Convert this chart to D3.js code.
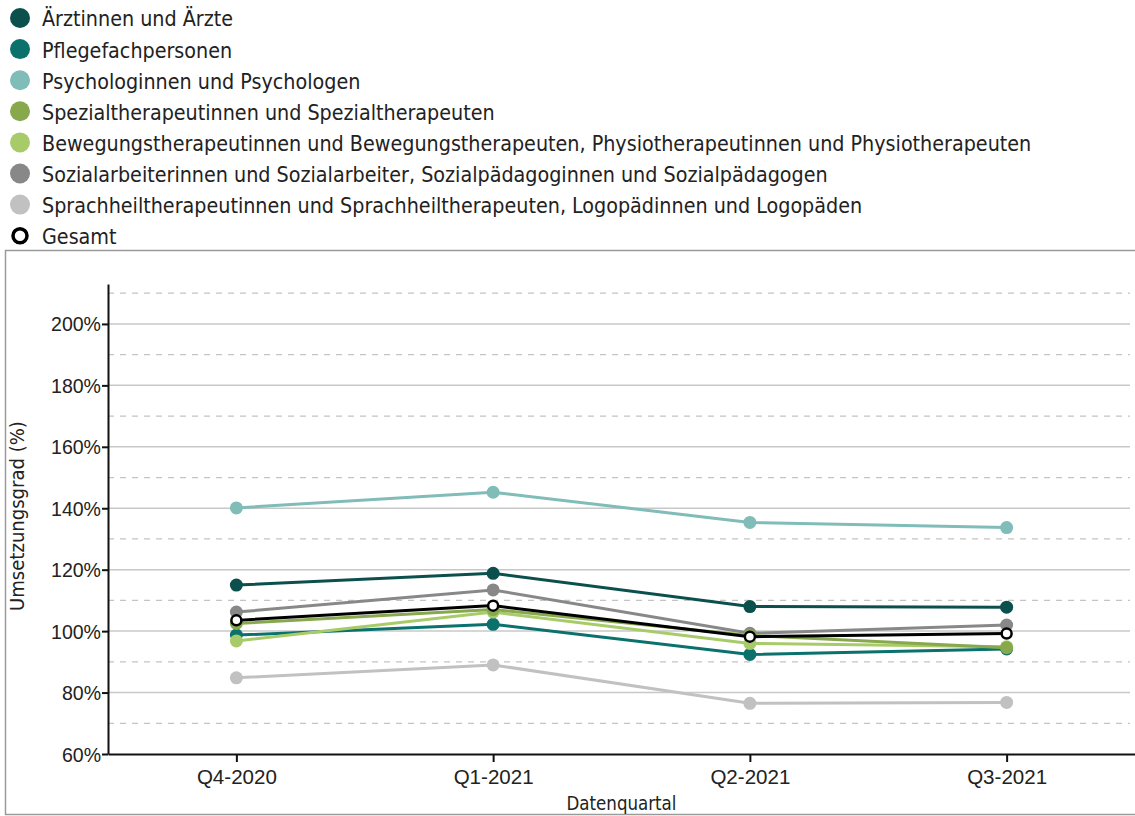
<!DOCTYPE html>
<html>
<head>
<meta charset="utf-8">
<style>
  body { margin: 0; background: #fff; }
  svg { display: block; font-family: "DejaVu Sans Condensed", "DejaVu Sans", sans-serif; }
</style>
</head>
<body>
<div id="chart"></div>
<script src="https://cdnjs.cloudflare.com/ajax/libs/d3/7.8.5/d3.min.js"></script>
<script>
  // Quarters on the x axis
  const quarters = ["Q4-2020", "Q1-2021", "Q2-2021", "Q3-2021"];

  // Series names (legend order)
  const seriesNames = [
    "Ärztinnen und Ärzte",
    "Pflegefachpersonen",
    "Psychologinnen und Psychologen",
    "Spezialtherapeutinnen und Spezialtherapeuten",
    "Bewegungstherapeutinnen und Bewegungstherapeuten, Physiotherapeutinnen und Physiotherapeuten",
    "Sozialarbeiterinnen und Sozialarbeiter, Sozialpädagoginnen und Sozialpädagogen",
    "Sprachheiltherapeutinnen und Sprachheiltherapeuten, Logopädinnen und Logopäden",
    "Gesamt"
  ];

  // Values in percent, one array per series
  const aerzte    = [115.0, 118.8, 108.0, 107.8];
  const pflege    = [98.7, 102.2, 92.4, 94.2];
  const psycho    = [140.1, 145.2, 135.4, 133.7];
  const spezial   = [102.5, 107.0, 98.6, 94.6];
  const bewegung  = [96.8, 106.2, 96.0, 94.9];
  const sozial    = [106.2, 113.4, 99.3, 102.0];
  const sprach    = [84.8, 89.0, 76.5, 76.8];
  const gesamt    = [103.5, 108.3, 98.2, 99.2];

  const seriesValues = [aerzte, pflege, psycho, spezial, bewegung, sozial, sprach, gesamt];
  const colors = ["#0b504d", "#0b716d", "#80bcb8", "#87a84c", "#a8cb6a", "#888888", "#c1c1c1", "#000000"];

  const yTicks = [60, 80, 100, 120, 140, 160, 180, 200];
  const yMinor = [70, 90, 110, 130, 150, 170, 190, 210];

  const width = 1135, height = 816;
  const svg = d3.create("svg").attr("width", width).attr("height", height);
  d3.select("#chart").node().appendChild(svg.node());

  // scale a text selection so the given node reaches a target width
  function fitText(sel, node, target, base) {
    sel.attr("font-size", base);
    const w = node.getComputedTextLength();
    sel.attr("font-size", base * target / w);
  }

  // Legend
  const legend = svg.append("g");
  seriesNames.forEach((name, i) => {
    const ly = 18 + i * 31.1;
    const g = legend.append("g").attr("transform", `translate(0,${ly})`);
    if (i === seriesNames.length - 1) {
      g.append("circle").attr("cx", 20).attr("cy", 0).attr("r", 7)
        .attr("fill", "#fff").attr("stroke", "#000").attr("stroke-width", 3.5);
    } else {
      g.append("circle").attr("cx", 20).attr("cy", 0).attr("r", 10).attr("fill", colors[i]);
    }
    g.append("text").attr("x", 42).attr("y", 1).attr("dy", "0.35em")
      .attr("fill", "#222").text(name);
  });
  const legendTexts = legend.selectAll("text");
  fitText(legendTexts, legendTexts.nodes()[4], 990, 17);

  // Panel border
  svg.append("rect").attr("x", 5.5).attr("y", 250.5).attr("width", 1135).attr("height", 564)
    .attr("fill", "none").attr("stroke", "#9a9a9a").attr("stroke-width", 1.5);

  const plotLeft = 108, plotRight = 1135, plotTop = 284, plotBottom = 754;

  const x = d3.scalePoint().domain(quarters).range([plotLeft, plotRight]).padding(0.5);
  const y = d3.scaleLinear().domain([60, 213]).range([plotBottom, plotTop]);

  // Grid lines
  svg.append("g").selectAll("line").data(yTicks.slice(1)).join("line")
    .attr("x1", plotLeft).attr("x2", 1130)
    .attr("y1", d => y(d)).attr("y2", d => y(d))
    .attr("stroke", "#c8c8c8").attr("stroke-width", 1.5);
  svg.append("g").selectAll("line").data(yMinor).join("line")
    .attr("x1", plotLeft).attr("x2", 1130)
    .attr("y1", d => y(d)).attr("y2", d => y(d))
    .attr("stroke", "#c4c4c4").attr("stroke-width", 1.3)
    .attr("stroke-dasharray", "6,6");

  // Y axis
  const yAxis = svg.append("g").attr("transform", `translate(${plotLeft},0)`)
    .call(d3.axisLeft(y).tickValues(yTicks).tickFormat(d => d + "%").tickSize(6).tickSizeOuter(0));
  yAxis.select(".domain").attr("stroke", "#111").attr("stroke-width", 2);
  yAxis.selectAll(".tick line").attr("stroke", "#111").attr("stroke-width", 2);
  const yLabels = yAxis.selectAll("text").attr("fill", "#222")
    .attr("font-family", null).attr("x", -7).attr("dy", "0.36em");
  fitText(yLabels, yLabels.nodes()[7], 50, 16);

  // X axis
  const xAxis = svg.append("g").attr("transform", `translate(0,${plotBottom})`)
    .call(d3.axisBottom(x).tickSize(8).tickSizeOuter(0));
  xAxis.select(".domain").attr("stroke", "#111").attr("stroke-width", 2);
  xAxis.selectAll(".tick line").attr("stroke", "#111").attr("stroke-width", 2);
  const xLabels = xAxis.selectAll("text").attr("fill", "#222")
    .attr("font-family", null).attr("y", 15);
  fitText(xLabels, xLabels.nodes()[0], 80, 16);

  // Axis titles
  const xTitle = svg.append("text").attr("x", (plotLeft + plotRight) / 2).attr("y", 810)
    .attr("text-anchor", "middle").attr("fill", "#222")
    .text("Datenquartal");
  fitText(xTitle, xTitle.node(), 110, 16);
  const yTitle = svg.append("text").attr("transform", "translate(24,516) rotate(-90)")
    .attr("text-anchor", "middle").attr("fill", "#222")
    .text("Umsetzungsgrad (%)");
  fitText(yTitle, yTitle.node(), 190, 16);

  // Lines and markers
  const line = d3.line().x((d, i) => x(quarters[i])).y(d => y(d));
  const drawOrder = [6, 2, 0, 5, 1, 4, 3, 7];
  drawOrder.forEach(s => {
    const vals = seriesValues[s];
    const g = svg.append("g");
    g.append("path").datum(vals).attr("d", line)
      .attr("fill", "none").attr("stroke", colors[s]).attr("stroke-width", 3);
    g.selectAll("circle").data(vals).join("circle")
      .attr("cx", (d, i) => x(quarters[i])).attr("cy", d => y(d))
      .attr("r", s === 7 ? 5 : 6.5)
      .attr("fill", s === 7 ? "#fff" : colors[s])
      .attr("stroke", s === 7 ? "#000" : "none")
      .attr("stroke-width", s === 7 ? 2.5 : 0);
  });
</script>
</body>
</html>
